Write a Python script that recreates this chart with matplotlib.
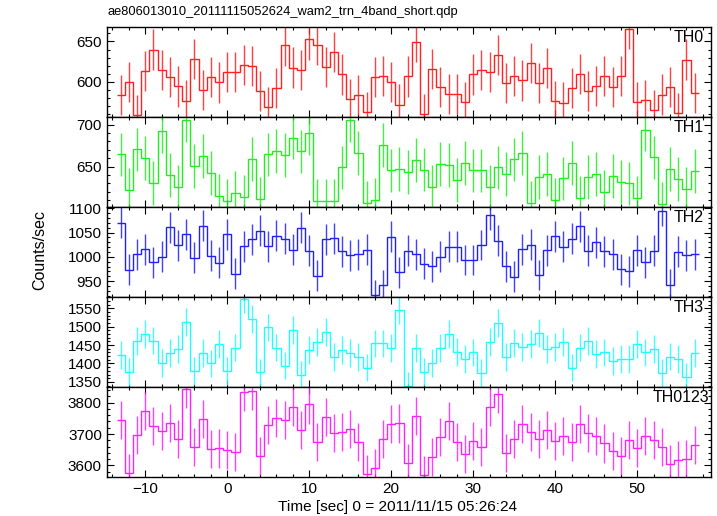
import matplotlib
matplotlib.use('Agg')
import matplotlib.pyplot as plt
import numpy as np
from matplotlib.ticker import MultipleLocator

plt.rcParams['font.family'] = ['Liberation Sans', 'DejaVu Sans']

# ==================== data (1 s bins, centres from -13 to 57 s) ====================
t_start = -13
t_stop = 58
time_sec = np.arange(t_start, t_stop)

th0 = [583.6, 600, 559, 613, 640, 615, 605.5, 594, 576.5, 628.5,
       589.5, 606, 599, 612.5, 612.5, 621, 619, 588, 568, 592.5,
       645, 617.5, 614, 652.5, 645.5, 618.5, 636.5, 609, 578.5, 583,
       562, 606, 607.5, 600, 571.5, 606.5, 649, 560, 615.5, 593,
       585, 584.5, 574.5, 609, 614.5, 612.5, 633, 598, 607, 601.5,
       623, 598.5, 616.5, 575.5, 574, 592, 610, 588.5, 595, 607.5,
       593, 607.5, 665.5, 575, 577.5, 565, 584, 593.5, 561, 627.5,
       585.5]
th1 = [664.5, 622, 670.5, 660, 630.5, 692, 640, 625.5, 705, 650.5,
       663, 642.5, 615, 609.5, 618.5, 614, 659.5, 611.5, 664.5, 669,
       664, 684.5, 668, 690, 609.5, 609.5, 609.5, 649, 705, 666.5,
       607, 610, 676, 645.5, 647, 643.5, 657.5, 646.5, 625.5, 653,
       652, 634, 654, 645.5, 645.5, 626, 649, 641.5, 658.5, 666,
       606.5, 638, 641, 610, 636, 654, 612.5, 638, 641, 620,
       638.5, 632, 630, 612.5, 694, 661, 605.5, 647.5, 635, 623,
       644.5]
th2 = [1070, 973.5, 1005, 1016, 989, 1000, 1061, 1023.5, 1047, 998,
       1064, 1002, 987.5, 1047, 965, 1022, 1036, 1054, 1021.5, 1044,
       1037.5, 1015, 1060.5, 1012.5, 960.5, 1036, 1038, 1012, 1003, 1005.5,
       1014.5, 920.5, 941.5, 1041.5, 968, 1012.5, 1005.5, 986, 980.5, 1000,
       1021, 1021, 993.5, 993.5, 1024.5, 1087, 1033.5, 981, 958.5, 1016,
       1025, 962.5, 1014, 1043, 1021, 1037, 1063, 1012.5, 1030.5, 1012,
       1005.5, 974.5, 970, 1014, 989, 1012.5, 1095, 942.5, 1010.5, 1003,
       1005.5]
th3 = [1422.5, 1378, 1462, 1481, 1462.5, 1402.5, 1427.5, 1440, 1512, 1379,
       1429, 1400, 1452, 1379, 1443.5, 1574.5, 1520, 1375.5, 1498, 1443.5,
       1394.5, 1491, 1367.5, 1437.5, 1457.5, 1486.5, 1416.5, 1435.5, 1427.5, 1416.5,
       1389, 1454.5, 1454.5, 1442.5, 1545.5, 1340, 1442.5, 1376.5, 1402.5, 1442,
       1481, 1432.5, 1411, 1430, 1373.5, 1457.5, 1511, 1416.5, 1456.5, 1445.5,
       1452.5, 1482, 1439, 1445.5, 1459, 1389, 1443.5, 1462, 1425.5, 1430,
       1406.5, 1412.5, 1412, 1452, 1430, 1440, 1373.5, 1419, 1412, 1364.5,
       1427.5]
th0123 = [3745, 3575.5, 3697, 3773.5, 3726.5, 3709.5, 3736, 3684, 3844.5, 3658.5,
          3748, 3652, 3654, 3649, 3642.5, 3833, 3837.5, 3630, 3728.5, 3750,
          3744.5, 3787, 3713, 3794.5, 3673.5, 3754.5, 3703, 3706.5, 3715, 3674.5,
          3571.5, 3591.5, 3684, 3732, 3734, 3608.5, 3758.5, 3569, 3626.5, 3689.5,
          3741.5, 3674.5, 3637, 3677.5, 3658.5, 3786, 3827.5, 3638.5, 3684, 3731,
          3707.5, 3684, 3713, 3678.5, 3693.5, 3674.5, 3732, 3703, 3693.5, 3670,
          3645.5, 3630, 3681, 3655.5, 3693.5, 3682, 3658.5, 3604, 3618, 3620,
          3665]

# typical 1-sigma error per band
errors = [25, 26, 32, 38, 61]
series = [th0, th1, th2, th3, th0123]
band_names = ['TH0', 'TH1', 'TH2', 'TH3', 'TH0123']
colors = ['#ff2020', '#20ee20', '#2020ff', '#20ffff', '#ff20ff']

y_limits = [(556, 668), (602, 709), (917, 1103), (1336, 1581), (3563, 3850)]
y_major = [50, 50, 50, 50, 100]
y_minor = [10, 10, 10, 10, 20]
label_x = [0.988, 0.988, 0.988, 0.988, 0.997]

# ==================== figure ====================
fig = plt.figure(figsize=(7.17, 5.16), dpi=100)
left, right = 106.7 / 717, 711 / 717
top_px, panel_px = 27, 90

edges = np.append(time_sec - 0.5, time_sec[-1] + 0.5)

axes = []
for i in range(5):
    bottom = 1 - (top_px + panel_px * (i + 1)) / 516
    ax = fig.add_axes([left, bottom, right - left, panel_px / 516])
    vals = np.array(series[i], dtype=float)
    ax.stairs(vals, edges, color=colors[i], lw=1.0, baseline=None)
    ax.errorbar(time_sec, vals, yerr=errors[i], fmt='none', ecolor=colors[i],
                elinewidth=1.0, capsize=0, alpha=0.85)
    ax.set_xlim(-14.7, 59)
    ax.set_ylim(*y_limits[i])
    ax.yaxis.set_major_locator(MultipleLocator(y_major[i]))
    ax.yaxis.set_minor_locator(MultipleLocator(y_minor[i]))
    ax.xaxis.set_major_locator(MultipleLocator(10))
    ax.xaxis.set_minor_locator(MultipleLocator(2))
    ax.tick_params(which='both', direction='in', top=True, right=True,
                   labelsize=11, width=0.8)
    ax.tick_params(which='major', length=5)
    ax.tick_params(which='minor', length=2.5)
    for sp in ax.spines.values():
        sp.set_linewidth(1.0)
    if i < 4:
        ax.tick_params(labelbottom=False)
    ax.text(label_x[i], 0.88, band_names[i], transform=ax.transAxes,
            ha='right', va='center', fontsize=11.5)
    axes.append(ax)

fig.text(107 / 717, 1 - 12 / 516, 'ae806013010_20111115052624_wam2_trn_4band_short.qdp',
         ha='left', va='center', fontsize=9.3)
fig.text(40 / 717, 1 - 250 / 516, 'Counts/sec', rotation=90,
         ha='center', va='center', fontsize=11.5)
fig.text(397.5 / 717, 1 - 507 / 516, 'Time [sec] 0 = 2011/11/15 05:26:24',
         ha='center', va='center', fontsize=11.1)

plt.savefig('out.png', dpi=100)
plt.close()
